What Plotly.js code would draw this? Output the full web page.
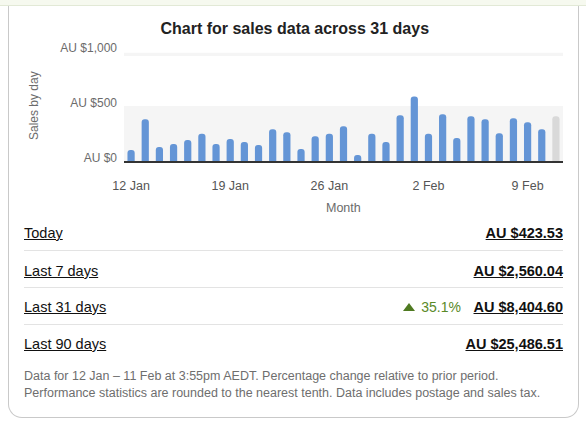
<!DOCTYPE html>
<html>
<head>
<meta charset="utf-8">
<script src="https://cdn.plot.ly/plotly-3.0.1.min.js"></script>
<style>
  html, body { margin: 0; padding: 0; background: #fff; }
  body { width: 586px; height: 429px; position: relative; overflow: hidden;
         font-family: "Liberation Sans", Arial, sans-serif; }
  .topband { position: absolute; left: 0; top: 0; width: 586px; height: 5px;
             background: #f6f9ef; border-bottom: 1px solid #e2e9d6; }
  .card { position: absolute; left: 8px; top: 6px; width: 569px; height: 411px;
          border: 1px solid #c9c9c9; border-top: none; border-radius: 0 0 14px 14px; }
  #chart { position: absolute; left: 0; top: 0; width: 586px; height: 220px; }
  .row { position: absolute; left: 24px; width: 539px; height: 20px; line-height: 20px;
         font-size: 14.5px; color: #111; }
  .row .lbl { position: absolute; left: 0; text-decoration: underline; }
  .row .val { position: absolute; right: 0; font-weight: bold; text-decoration: underline; }
  .row .pct { position: absolute; right: 102px; color: #5a8a28; font-size: 14px; }
  .row .pct .tri { display: inline-block; width: 0; height: 0; margin-right: 6px;
                   border-left: 6.5px solid transparent; border-right: 6.5px solid transparent;
                   border-bottom: 8px solid #4f7a21; vertical-align: 1px; }
  .sep { position: absolute; left: 24px; width: 539px; height: 1px; background: #e3e3e3; }
  .note { position: absolute; left: 24px; font-size: 12.5px; color: #6e6e6e; line-height: 17px; }
</style>
</head>
<body>
<div class="topband"></div>
<div class="card"></div>
<div id="chart"></div>

<div class="row" style="top:223px"><span class="lbl">Today</span><span class="val">AU $423.53</span></div>
<div class="sep" style="top:250px"></div>
<div class="row" style="top:261px"><span class="lbl">Last 7 days</span><span class="val">AU $2,560.04</span></div>
<div class="sep" style="top:287px"></div>
<div class="row" style="top:297px"><span class="lbl">Last 31 days</span><span class="pct"><span class="tri"></span>35.1%</span><span class="val">AU $8,404.60</span></div>
<div class="sep" style="top:324px"></div>
<div class="row" style="top:334px"><span class="lbl">Last 90 days</span><span class="val">AU $25,486.51</span></div>
<div class="note" style="top:368px">Data for 12 Jan – 11 Feb at 3:55pm AEDT. Percentage change relative to prior period.<br>Performance statistics are rounded to the nearest tenth. Data includes postage and sales tax.</div>

<script>
// daily sales, 12 Jan .. 11 Feb (last day = today, still in progress)
const days = [
  '12 Jan', '13 Jan', '14 Jan', '15 Jan', '16 Jan', '17 Jan', '18 Jan',
  '19 Jan', '20 Jan', '21 Jan', '22 Jan', '23 Jan', '24 Jan', '25 Jan',
  '26 Jan', '27 Jan', '28 Jan', '29 Jan', '30 Jan', '31 Jan', '1 Feb',
  '2 Feb', '3 Feb', '4 Feb', '5 Feb', '6 Feb', '7 Feb', '8 Feb',
  '9 Feb', '10 Feb', '11 Feb'
];
const sales = [
  99, 380, 127, 154, 190, 247, 154,
  199, 172, 145, 289, 262, 108, 226,
  247, 316, 54, 247, 172, 416, 587,
  247, 425, 208, 407, 380, 253, 389,
  352, 289, 407
];
const xTicks = ['12 Jan', '19 Jan', '26 Jan', '2 Feb', '9 Feb'];
const yTicks = [0, 500, 1000];
const yTickText = ['AU $0', 'AU $500', 'AU $1,000'];

const BLUE = '#6495d6';
const GREY = '#d9d9d9';
const LABEL = '#6b6b6b';

const trace = {
  type: 'bar',
  x: days,
  y: sales,
  marker: {
    color: sales.map((v, i) => i === sales.length - 1 ? GREY : BLUE),
    cornerradius: 3
  },
  hoverinfo: 'skip'
};

const layout = {
  width: 586,
  height: 220,
  margin: { l: 124, r: 23, t: 51, b: 59 },
  paper_bgcolor: 'rgba(0,0,0,0)',
  plot_bgcolor: 'rgba(0,0,0,0)',
  font: { family: '"Liberation Sans", Arial, sans-serif', color: LABEL },
  showlegend: false,
  bargap: 0.49,
  title: {
    text: 'Chart for sales data across 31 days',
    font: { size: 16, weight: 'bold', color: '#222' },
    xref: 'container', x: 0.503,
    yref: 'container', y: 1 - 28 / 220, yanchor: 'middle'
  },
  xaxis: {
    type: 'category',
    tickvals: xTicks,
    ticktext: xTicks,
    showgrid: false,
    zeroline: false,
    showline: true,
    linecolor: '#333',
    linewidth: 1.5,
    ticks: '',
    ticklabelstandoff: 12,
    tickfont: { size: 12.5, color: '#555' }
  },
  yaxis: {
    range: [0, 1000],
    tickvals: yTicks,
    ticktext: yTickText,
    showgrid: false,
    zeroline: false,
    ticks: '',
    ticklabelstandoff: 6,
    ticklabelshift: -3,
    tickfont: { size: 12, color: LABEL }
  },
  shapes: [
    { type: 'rect', xref: 'paper', yref: 'y', x0: 0, x1: 1, y0: 0, y1: 500,
      fillcolor: '#f5f5f5', line: { width: 0 }, layer: 'below' },
    { type: 'rect', xref: 'paper', yref: 'y', x0: 0, x1: 1, y0: 955, y1: 985,
      fillcolor: '#f5f5f5', line: { width: 0 }, layer: 'below' }
  ],
  annotations: [
    { text: 'Sales by day', xref: 'paper', yref: 'paper', x: 0, y: 0.5,
      xshift: -99, textangle: -90, showarrow: false,
      font: { size: 12, color: LABEL } },
    { text: 'Month', xref: 'paper', yref: 'paper', x: 0.5, y: 0,
      yshift: -47, yanchor: 'middle', showarrow: false,
      font: { size: 12.5, color: LABEL } }
  ]
};

Plotly.newPlot('chart', [trace], layout, { displayModeBar: false, staticPlot: true });
</script>
</body>
</html>
